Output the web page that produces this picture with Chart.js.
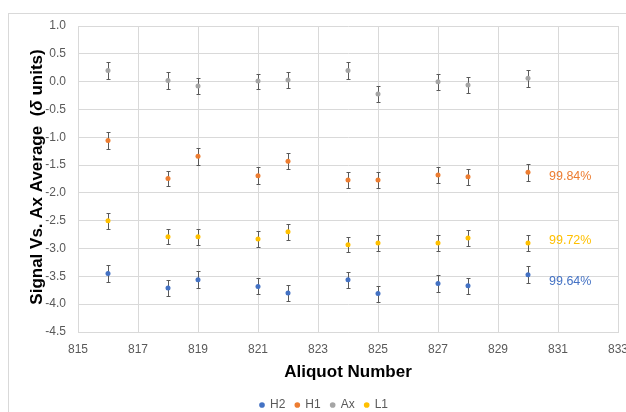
<!DOCTYPE html>
<html>
<head>
<meta charset="utf-8">
<script src="https://cdn.jsdelivr.net/npm/chart.js@4.4.1/dist/chart.umd.min.js"></script>
<style>
    html, body { margin: 0; padding: 0; background: #fff; overflow: hidden; width: 626px; height: 412px; }
    #frame { position: absolute; left: 8px; top: 13px; width: 700px; height: 500px;
             border-left: 1px solid #d9d9d9; border-top: 1px solid #d9d9d9; }
    #c { position: absolute; left: 0; top: 0; }
</style>
</head>
<body>
<div id="frame"></div>
<canvas id="c" width="660" height="421"></canvas>
<script>
'use strict';

// Aliquot numbers (x) and series averages (y)
const aliquots = [816, 818, 819, 821, 822, 824, 825, 827, 828, 830];
const h2 = [-3.45, -3.71, -3.56, -3.68, -3.80, -3.56, -3.81, -3.63, -3.67, -3.47];
const h1 = [-1.06, -1.74, -1.34, -1.69, -1.43, -1.77, -1.77, -1.68, -1.71, -1.63];
const ax = [0.20, 0.02, -0.08, 0.01, 0.03, 0.20, -0.22, 0.00, -0.06, 0.06];
const l1 = [-2.50, -2.79, -2.79, -2.83, -2.70, -2.93, -2.90, -2.90, -2.81, -2.90];

// +/- error bar sizes
const errH2 = [0.15, 0.14, 0.15, 0.145, 0.14, 0.145, 0.145, 0.15, 0.145, 0.15];
const errH1 = [0.15, 0.14, 0.15, 0.15, 0.145, 0.145, 0.14, 0.14, 0.145, 0.15];
const errAx = [0.145, 0.145, 0.14, 0.135, 0.145, 0.145, 0.14, 0.145, 0.145, 0.15];
const errL1 = [0.14, 0.135, 0.145, 0.14, 0.145, 0.14, 0.14, 0.14, 0.14, 0.14];

// percentage notes beside the series
const pctLabels = ['99.84%', '99.72%', '99.64%'];
const pctSeries = ['H1', 'L1', 'H2'];
const pctY = [-1.70, -2.86, -3.60];
const pctX = 830.7;

const COLORS = { H2: '#4472C4', H1: '#ED7D31', Ax: '#A5A5A5', L1: '#FFC000' };
const GRID = '#d9d9d9';
const TEXT = '#595959';
const FONT = "'Liberation Sans', Arial, sans-serif";

const toPoints = ys => ys.map((v, i) => ({ x: aliquots[i], y: v }));

const makeSet = (label, ys, errs) => ({
    label,
    data: toPoints(ys),
    errors: errs,
    backgroundColor: COLORS[label],
    borderColor: COLORS[label],
    borderWidth: 0,
    pointRadius: 2.5,
    pointHoverRadius: 2.5,
    showLine: false,
});

const errorBars = {
    id: 'errorBars',
    beforeDatasetsDraw(chart) {
        const { ctx, scales: { x, y } } = chart;
        ctx.save();
        ctx.strokeStyle = '#595959';
        ctx.lineWidth = 1;
        chart.data.datasets.forEach(ds => {
            ds.data.forEach((p, i) => {
                const px = Math.round(x.getPixelForValue(p.x)) + 0.5;
                const top = Math.round(y.getPixelForValue(p.y + ds.errors[i])) + 0.5;
                const bot = Math.round(y.getPixelForValue(p.y - ds.errors[i])) + 0.5;
                ctx.beginPath();
                ctx.moveTo(px, top); ctx.lineTo(px, bot);
                ctx.moveTo(px - 2, top); ctx.lineTo(px + 2, top);
                ctx.moveTo(px - 2, bot); ctx.lineTo(px + 2, bot);
                ctx.stroke();
            });
        });
        ctx.restore();
    }
};

const extras = {
    id: 'extras',
    afterDraw(chart) {
        const { ctx, scales: { x, y }, chartArea } = chart;
        ctx.save();
        // percentage notes
        ctx.font = `12.5px ${FONT}`;
        ctx.textBaseline = 'middle';
        ctx.textAlign = 'left';
        pctLabels.forEach((t, i) => {
            ctx.fillStyle = COLORS[pctSeries[i]];
            ctx.fillText(t, x.getPixelForValue(pctX), y.getPixelForValue(pctY[i]));
        });
        // y title with italic delta
        const parts = [
            ['Signal Vs. Ax Average  (', `bold 17px ${FONT}`],
            ['\u03B4', `italic bold 17px ${FONT}`],
            [' units)', `bold 17px ${FONT}`],
        ];
        let total = 0;
        parts.forEach(([t, f]) => { ctx.font = f; total += ctx.measureText(t).width; });
        ctx.translate(37, (chartArea.top + chartArea.bottom) / 2 - 2);
        ctx.rotate(-Math.PI / 2);
        ctx.fillStyle = '#000';
        let cx = -total / 2;
        parts.forEach(([t, f]) => {
            ctx.font = f;
            ctx.fillText(t, cx, 0);
            cx += ctx.measureText(t).width;
        });
        ctx.restore();
    }
};

new Chart(document.getElementById('c'), {
    type: 'scatter',
    data: {
        datasets: [
            makeSet('H2', h2, errH2),
            makeSet('H1', h1, errH1),
            makeSet('Ax', ax, errAx),
            makeSet('L1', l1, errL1),
        ]
    },
    options: {
        responsive: false,
        animation: false,
        layout: { padding: { left: 30, right: 42, top: 26, bottom: 0 } },
        plugins: {
            legend: {
                position: 'bottom',
                labels: {
                    usePointStyle: true,
                    pointStyle: 'circle',
                    boxWidth: 4,
                    boxHeight: 4,
                    padding: 10,
                    color: TEXT,
                    font: { family: FONT, size: 12 }
                }
            },
            tooltip: { enabled: false }
        },
        scales: {
            x: {
                type: 'linear',
                min: 815, max: 833,
                afterFit: s => { s.height = 57; },
                ticks: { stepSize: 2, padding: 10, color: TEXT, font: { family: FONT, size: 12 } },
                grid: { color: GRID, drawTicks: false },
                border: { color: GRID },
                title: {
                    display: true,
                    text: 'Aliquot Number',
                    color: '#000',
                    font: { family: FONT, size: 17, weight: 'bold' },
                    padding: { top: 4, bottom: 6 }
                }
            },
            y: {
                min: -4.5, max: 1.0,
                afterFit: s => { s.width = 48; },
                ticks: {
                    stepSize: 0.5, padding: 12, color: TEXT,
                    font: { family: FONT, size: 12 },
                    callback: v => v.toFixed(1)
                },
                grid: { color: GRID, drawTicks: false },
                border: { color: GRID }
            }
        }
    },
    plugins: [errorBars, extras]
});
</script>
</body>
</html>
